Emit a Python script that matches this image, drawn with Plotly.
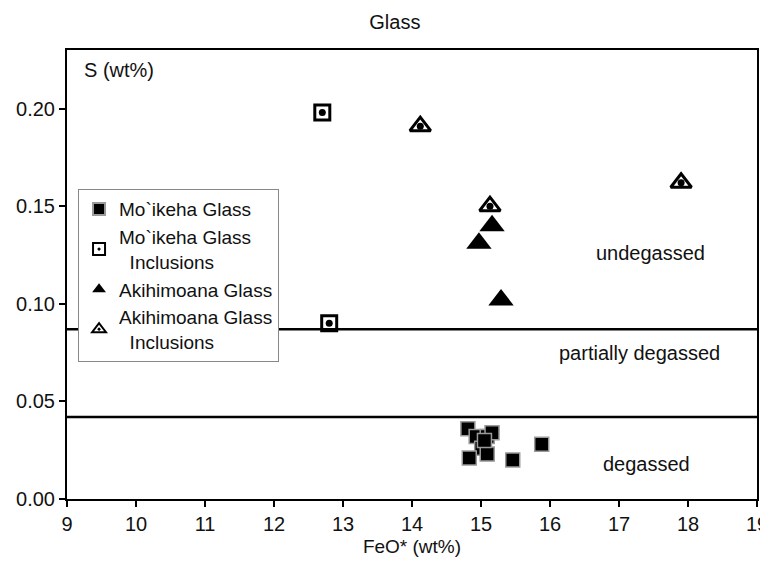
import plotly.graph_objects as go

# Data
mg_x = [14.81, 14.93, 15.09, 15.16, 15.01, 14.83, 15.09, 15.46, 15.88, 15.05]
mg_y = [0.036, 0.032, 0.032, 0.034, 0.026, 0.021, 0.023, 0.020, 0.028, 0.030]
mgi_x = [12.7, 12.8]
mgi_y = [0.198, 0.090]
ag_x = [15.16, 14.97, 15.29]
ag_y = [0.140, 0.131, 0.102]
agi_x = [14.12, 15.13, 17.9]
agi_y = [0.191, 0.150, 0.162]
thresholds = [0.087, 0.042]
zone_labels = ["undegassed", "partially degassed", "degassed"]
zone_x = [17.45, 17.3, 17.4]
zone_y = [0.126, 0.075, 0.018]
x_ticks = list(range(9, 20))
y_ticks = [0.0, 0.05, 0.10, 0.15, 0.20]

FONT = "Liberation Sans, Arial, Helvetica, sans-serif"
TXT = "#111111"

fig = go.Figure()
fig.add_trace(go.Scatter(x=mg_x, y=mg_y, mode="markers", name="Mo`ikeha Glass",
                         marker=dict(symbol="square", size=14, color="black",
                                     line=dict(color="#9a9a9a", width=1.5))))
fig.add_trace(go.Scatter(x=mgi_x, y=mgi_y, mode="markers", name="Mo`ikeha Glass<br>  Inclusions",
                         marker=dict(symbol="square-open-dot", size=15, color="black",
                                     line=dict(color="black", width=3))))
fig.add_trace(go.Scatter(x=mgi_x, y=mgi_y, mode="markers", showlegend=False, hoverinfo="skip",
                         marker=dict(symbol="circle", size=7, color="black", line=dict(width=0))))
fig.add_trace(go.Scatter(x=ag_x, y=ag_y, mode="markers", name="Akihimoana Glass",
                         marker=dict(symbol="triangle-up", size=22, color="black",
                                     line=dict(color="black", width=0))))
fig.add_trace(go.Scatter(x=agi_x, y=agi_y, mode="markers", name="Akihimoana Glass<br>  Inclusions",
                         marker=dict(symbol="triangle-up-open-dot", size=18, color="black",
                                     line=dict(color="black", width=3))))
fig.add_trace(go.Scatter(x=agi_x, y=agi_y, mode="markers", showlegend=False, hoverinfo="skip",
                         marker=dict(symbol="circle", size=7, color="black", line=dict(width=0))))

for t in thresholds:
    fig.add_shape(type="line", xref="paper", x0=0, x1=1, yref="y", y0=t, y1=t,
                  line=dict(color="black", width=2.5), layer="below")

for lab, lx, ly in zip(zone_labels, zone_x, zone_y):
    fig.add_annotation(x=lx, y=ly, text=lab, showarrow=False,
                       font=dict(size=20, color=TXT, family=FONT))

fig.add_annotation(xref="paper", yref="paper", x=0.022, y=0.985, text="S (wt%)",
                   showarrow=False, xanchor="left", yanchor="top",
                   font=dict(size=20, color=TXT, family=FONT))

# page body has an 8px margin, so the figure is sized to the visible area
fig.update_layout(
    width=760, height=557,
    margin=dict(l=59, r=11, t=42, b=66),
    paper_bgcolor="white", plot_bgcolor="white",
    font=dict(family=FONT, size=20, color=TXT),
    title=dict(text="Glass", x=0.509, xanchor="center", y=0.975, yanchor="middle",
               font=dict(size=20, family=FONT, color=TXT)),
    showlegend=True,
    legend=dict(x=0.016, y=0.69, xanchor="left", yanchor="top",
                bgcolor="white", bordercolor="#888888", borderwidth=1,
                font=dict(size=19, family=FONT, color=TXT),
                itemsizing="constant", tracegroupgap=2, itemwidth=30),
)
fig.update_xaxes(range=[9, 19], tickvals=x_ticks, ticks="outside", ticklen=6,
                 tickwidth=1.5, tickcolor="black", automargin=False,
                 ticklabeloverflow="allow",
                 showline=True, linecolor="black", linewidth=2, mirror=True,
                 showgrid=False, zeroline=False, tickfont=dict(size=20),
                 title=dict(text="FeO* (wt%)", font=dict(size=19), standoff=6))
fig.update_yaxes(range=[0, 0.23], tickvals=y_ticks, tickformat=".2f", ticks="outside",
                 ticklen=6, tickwidth=1.5, tickcolor="black", automargin=False,
                 showline=True, linecolor="black", linewidth=2, mirror=True,
                 showgrid=False, zeroline=False, tickfont=dict(size=20))

fig.write_html("out.html")
